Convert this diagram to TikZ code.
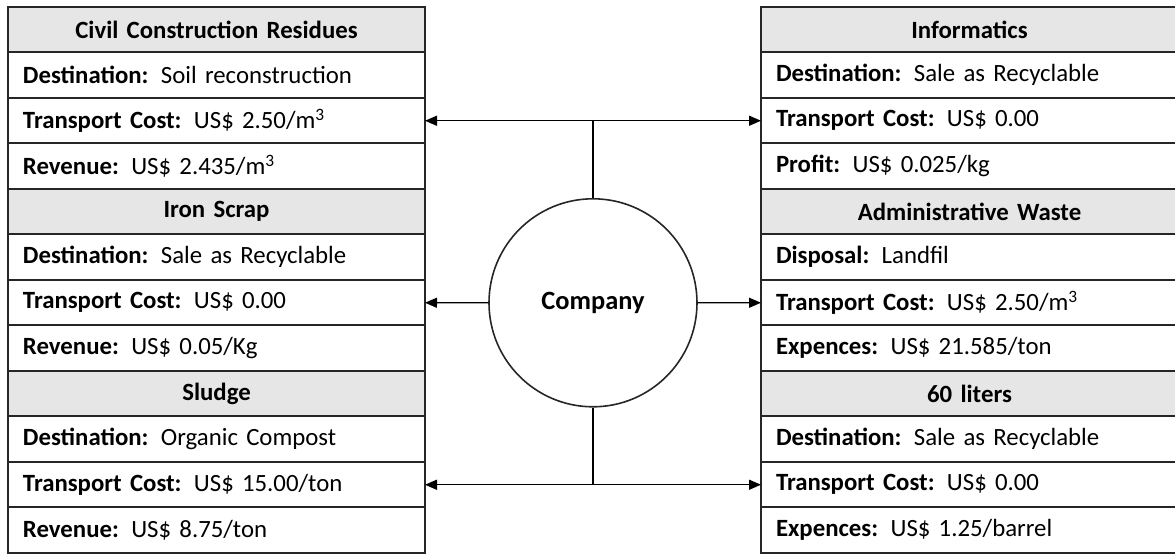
\documentclass[tikz,border=0pt]{standalone}
\usepackage{fontspec}
\setmainfont{Carlito}
\usetikzlibrary{arrows.meta,positioning}
\definecolor{headgray}{HTML}{E7E6E6}
\tikzset{
  row/.style={
    draw=black!85,
    line width=1pt,
    minimum width=208.5pt,
    minimum height=22.75pt,
    text width=193.5pt,
    inner xsep=7.5pt,
    inner ysep=0pt,
    outer sep=0pt,
    align=left,
    font=\fontsize{12.4}{14}\selectfont
  },
  head/.style={row, fill=headgray, align=center, font=\fontsize{12.4}{14}\selectfont\bfseries},
  hub/.style={circle, draw=black!85, line width=0.8pt, minimum size=104pt, inner sep=0pt,
    font=\fontsize{13.2}{15}\selectfont\bfseries},
  link/.style={-{Triangle[length=6pt,width=5pt]}, line width=0.7pt},
  both/.style={{Triangle[length=6pt,width=5pt]}-{Triangle[length=6pt,width=5pt]}, line width=0.7pt}
}

\begin{document}
\begin{tikzpicture}[node distance=0pt]
  \useasboundingbox (0,0) rectangle (587.5pt,-277.5pt);

  % left column
  \node[head, anchor=north west] (ccr) at (4pt,-3.5pt) {Civil Construction Residues};
  \node[row, below=of ccr] (ccr-d) {\textbf{Destination:} Soil reconstruction};
  \node[row, below=of ccr-d] (ccr-tc) {\textbf{Transport Cost:} US\$ 2.50/m\textsuperscript{3}};
  \node[row, below=of ccr-tc] (ccr-r) {\textbf{Revenue:} US\$ 2.435/m\textsuperscript{3}};
  \node[head, below=of ccr-r] (iron) {Iron Scrap};
  \node[row, below=of iron] (iron-d) {\textbf{Destination:} Sale as Recyclable};
  \node[row, below=of iron-d] (iron-tc) {\textbf{Transport Cost:} US\$ 0.00};
  \node[row, below=of iron-tc] (iron-r) {\textbf{Revenue:} US\$ 0.05/Kg};
  \node[head, below=of iron-r] (sl) {Sludge};
  \node[row, below=of sl] (sl-d) {\textbf{Destination:} Organic Compost};
  \node[row, below=of sl-d] (sl-tc) {\textbf{Transport Cost:} US\$ 15.00/ton};
  \node[row, below=of sl-tc] (sl-r) {\textbf{Revenue:} US\$ 8.75/ton};

  % right column
  \node[head, anchor=north west] (inf) at (380.5pt,-3.5pt) {Informatics};
  \node[row, below=of inf] (inf-d) {\textbf{Destination:} Sale as Recyclable};
  \node[row, below=of inf-d] (inf-tc) {\textbf{Transport Cost:} US\$ 0.00};
  \node[row, below=of inf-tc] (inf-p) {\textbf{Profit:} US\$ 0.025/kg};
  \node[head, below=of inf-p] (adm) {Administrative Waste};
  \node[row, below=of adm] (adm-d) {\textbf{Disposal:} Landfil};
  \node[row, below=of adm-d] (adm-tc) {\textbf{Transport Cost:} US\$ 2.50/m\textsuperscript{3}};
  \node[row, below=of adm-tc] (adm-e) {\textbf{Expences:} US\$ 21.585/ton};
  \node[head, below=of adm-e] (lit) {60 liters};
  \node[row, below=of lit] (lit-d) {\textbf{Destination:} Sale as Recyclable};
  \node[row, below=of lit-d] (lit-tc) {\textbf{Transport Cost:} US\$ 0.00};
  \node[row, below=of lit-tc] (lit-e) {\textbf{Expences:} US\$ 1.25/barrel};

  % centre
  \node[hub] (co) at (296.5pt,-151.4pt) {Company};

  \draw[both] (ccr-tc.east) -- (inf-tc.west);
  \draw[line width=0.7pt] (co.north) -- (co.north |- ccr-tc.east);
  \draw[link] (co.west) -- (iron-tc.east);
  \draw[link] (co.east) -- (adm-tc.west);
  \draw[line width=0.7pt] (co.south) -- (co.south |- sl-tc.east);
  \draw[both] (sl-tc.east) -- (lit-tc.west);
\end{tikzpicture}
\end{document}
